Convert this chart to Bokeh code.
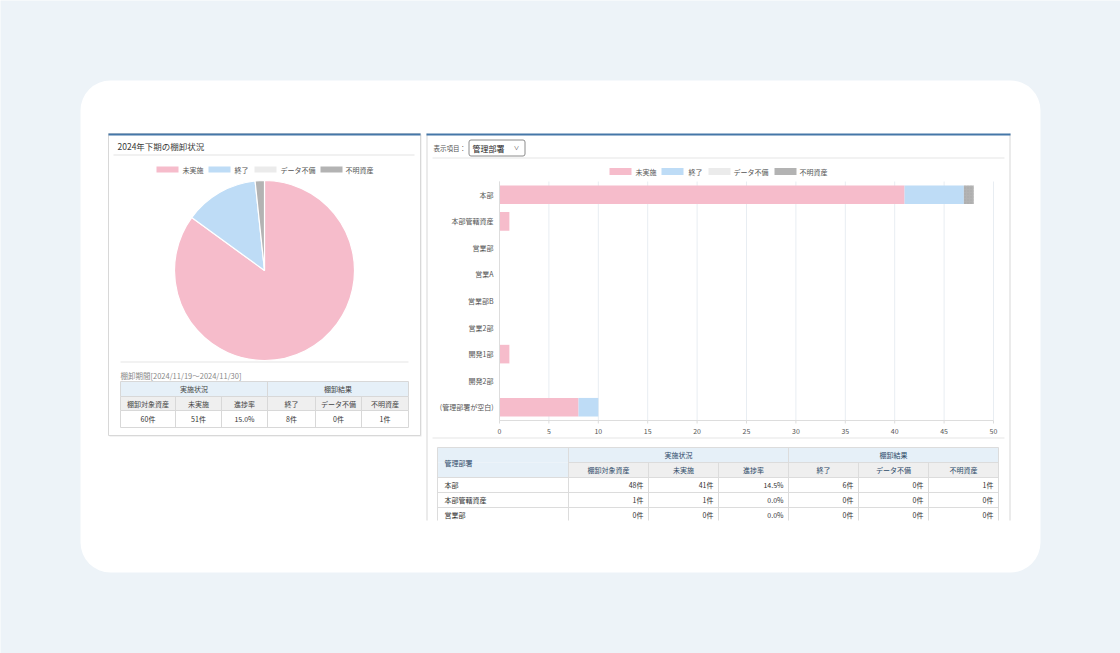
import math

from bokeh.core.properties import value
from bokeh.embed import file_html
from bokeh.models import ColumnDataSource, Range1d
from bokeh.plotting import figure
from bokeh.resources import INLINE

FONT = "Noto Sans CJK JP"
PAGE_BG = "#edf3f8"
ACCENT = "#4577a8"
BORDER = "#d8d8d8"
HEAD_BLUE = "#e6f0f8"
HEAD_GREY = "#efefef"

# ---------------- data ----------------
status_labels = ["未実施", "終了", "データ不備", "不明資産"]
status_colors = ["#f6bccb", "#bedcf6", "#ebebeb", "#b3b3b3"]

summary_title = "2024年下期の棚卸状況"
period_label = "棚卸期間[2024/11/19～2024/11/30]"
summary_counts = [51, 8, 0, 1]  # 未実施, 終了, データ不備, 不明資産

departments = ["本部", "本部管轄資産", "営業部", "営業A", "営業部B",
               "営業2部", "開発1部", "開発2部", "(管理部署が空白)"]
dept_pending = [41, 1, 0, 0, 0, 0, 1, 0, 8]
dept_done = [6, 0, 0, 0, 0, 0, 0, 0, 2]
dept_incomplete = [0, 0, 0, 0, 0, 0, 0, 0, 0]
dept_unknown = [1, 0, 0, 0, 0, 0, 0, 0, 0]

x_ticks = [0, 5, 10, 15, 20, 25, 30, 35, 40, 45, 50]

group_headers = ["実施状況", "棚卸結果"]
column_headers = ["棚卸対象資産", "未実施", "進捗率", "終了", "データ不備", "不明資産"]
table_dept_header = "管理部署"
table_visible_rows = 3

filter_caption = "表示項目："
filter_choice = "管理部署"


def progress_rate(total, pending):
    if total == 0:
        return 0.0
    return math.floor((total - pending) / total * 1000) / 10


def row_cells(pending, done, incomplete, unknown):
    total = pending + done + incomplete + unknown
    return [f"{total}件", f"{pending}件", f"{progress_rate(total, pending):.1f}%",
            f"{done}件", f"{incomplete}件", f"{unknown}件"]


# ---------------- page canvas (pixel coordinates, y downwards) ----------------
W, H = 1120, 653
p = figure(width=W, height=H, x_range=Range1d(0, W), y_range=Range1d(H, 0),
           min_border=0, x_axis_location=None, y_axis_location=None,
           toolbar_location=None, output_backend="svg",
           background_fill_color=PAGE_BG, border_fill_color=PAGE_BG)
p.outline_line_color = None
p.grid.visible = False

# bar-chart scales: counts across 0..50 and one band per department
CH_L, CH_R, CH_T, CH_B = 499, 993, 181, 420
x_max = x_ticks[-1]
px_per_unit = (CH_R - CH_L) / x_max
n_dept = len(departments)
band = (CH_B - CH_T) / n_dept
p.extra_x_ranges = {"cnt": Range1d(-CH_L / px_per_unit, (W - CH_L) / px_per_unit)}
p.extra_y_ranges = {"dept": Range1d(-0.5 + (H - CH_T) / band, -0.5 - CH_T / band)}


def box(x0, y0, x1, y1, fill=None, line=None, lw=1, radius=0):
    kw = {}
    if radius:
        kw["border_radius"] = radius
    p.quad(left=[x0], right=[x1], top=[y0], bottom=[y1],
           fill_color=fill, fill_alpha=1 if fill else 0,
           line_color=line, line_width=lw, **kw)


def text(x, y, s, size="7px", color="#333333", align="left", style="normal"):
    p.text(x=[x], y=[y], text=[s], text_font=value(FONT), text_font_size=value(size),
           text_color=color, text_align=align, text_baseline="middle",
           text_font_style=style)


def legend(swatch_x, text_x, y, w, h):
    for sx, tx, name, col in zip(swatch_x, text_x, status_labels, status_colors):
        box(sx, y - h / 2, sx + w, y + h / 2, fill=col)
        text(tx, y, name, color="#555555")


# card
box(80, 80, 1040, 572, fill="white", radius=30)

# ================= left panel: summary =================
box(109, 134, 421, 436, fill="#e8e8e8")
box(108, 133, 420, 435, fill="white", line=BORDER)
box(108, 133, 420, 135, fill=ACCENT)

text(117, 145, summary_title, size="8.5px", color="#3a3a3a")
box(113, 154, 414, 155, fill="#e4e4e4")

legend([156, 208, 254, 320], [182, 234, 280, 345], 169, 22, 6)

total = sum(summary_counts)
cum = [0]
for c in summary_counts:
    cum.append(cum[-1] + c)
slices = [i for i, c in enumerate(summary_counts) if c > 0]
pie_src = ColumnDataSource(dict(
    start=[math.pi / 2 - cum[i + 1] / total * 2 * math.pi for i in slices],
    end=[math.pi / 2 - cum[i] / total * 2 * math.pi for i in slices],
    color=[status_colors[i] for i in slices],
))
p.wedge(x=264, y=270, radius=90, radius_units="screen",
        start_angle="start", end_angle="end", direction="anticlock",
        fill_color="color", line_color="white", line_width=1.2, source=pie_src)

box(120, 361, 408, 362, fill="#e6e6e6")
text(120, 375, period_label, size="7.5px", color="#888888")

# summary table
lcols = [120, 175, 221, 267, 315, 361, 408]
lrows = [381, 396, 410, 427]
box(lcols[0], lrows[0], lcols[-1], lrows[1], fill=HEAD_BLUE, line=BORDER)
box(lcols[0], lrows[1], lcols[-1], lrows[2], fill=HEAD_GREY, line=BORDER)
box(lcols[0], lrows[2], lcols[-1], lrows[3], fill="white", line=BORDER)
box(lcols[3] - 0.5, lrows[0], lcols[3] + 0.5, lrows[3], fill=BORDER)
for cx in lcols[1:-1]:
    box(cx - 0.5, lrows[1], cx + 0.5, lrows[3], fill=BORDER)
text((lcols[0] + lcols[3]) / 2, (lrows[0] + lrows[1]) / 2, group_headers[0], color="#444444", align="center")
text((lcols[3] + lcols[6]) / 2, (lrows[0] + lrows[1]) / 2, group_headers[1], color="#444444", align="center")
summary_cells = row_cells(*summary_counts)
for i in range(6):
    cx = (lcols[i] + lcols[i + 1]) / 2
    text(cx, (lrows[1] + lrows[2]) / 2, column_headers[i], color="#444444", align="center")
    text(cx, (lrows[2] + lrows[3]) / 2, summary_cells[i], color="#333333", align="center")

# ================= right panel: by department =================
box(426, 133, 1010, 520, fill="white")
box(426, 133, 427, 520, fill=BORDER)
box(1009, 133, 1010, 520, fill=BORDER)
box(426, 133, 1010, 135, fill=ACCENT)

text(433, 147, filter_caption, size="6.5px", color="#555555")
box(468.5, 139.5, 524.5, 155.5, fill="white", line="#8c8c8c", radius=2)
text(472, 147.5, filter_choice, size="8px", color="#222222")
text(516, 147, "∨", size="5.5px", color="#444444", align="center")
box(432, 157, 1004, 158, fill="#e6e6e6")

legend([609, 661, 708, 774], [635, 688, 733, 799], 171, 22, 7)

# grid and axis lines of the bar chart
p.segment(x0=x_ticks, x1=x_ticks, y0=-0.5, y1=n_dept - 0.5, line_color="#e8edf2",
          line_width=1, x_range_name="cnt", y_range_name="dept")

bar_src = ColumnDataSource(dict(
    idx=list(range(n_dept)), pending=dept_pending, done=dept_done,
    incomplete=dept_incomplete, unknown=dept_unknown,
))
p.hbar_stack(["pending", "done", "incomplete", "unknown"], y="idx", height=0.7,
             source=bar_src, fill_color=status_colors, line_color=None,
             hatch_pattern=[" ", " ", ".", "."], hatch_color="#999999",
             hatch_scale=3, hatch_alpha=0.45,
             x_range_name="cnt", y_range_name="dept")

p.segment(x0=[0], x1=[0], y0=[-0.5], y1=[n_dept - 0.5], line_color="#dddddd",
          x_range_name="cnt", y_range_name="dept")
p.segment(x0=[0], x1=[x_max], y0=[n_dept - 0.5], y1=[n_dept - 0.5], line_color="#dddddd",
          x_range_name="cnt", y_range_name="dept")
p.segment(x0=x_ticks, x1=x_ticks, y0=n_dept - 0.5, y1=n_dept - 0.5 + 3 / band,
          line_color="#dddddd", x_range_name="cnt", y_range_name="dept")

# tick labels
p.text(x=x_ticks, y=[430] * len(x_ticks), text=[str(t) for t in x_ticks],
       text_font=value(FONT), text_font_size=value("7px"), text_color="#555555",
       text_align="center", text_baseline="middle", x_range_name="cnt")
p.text(x=[0] * n_dept, y=list(range(n_dept)), text=departments, x_offset=-6,
       text_font=value(FONT), text_font_size=value("7px"), text_color="#555555",
       text_align="right", text_baseline="middle",
       x_range_name="cnt", y_range_name="dept")

box(432, 437, 1004, 438, fill="#e6e6e6")

# detail table
rcols = [437, 568, 648, 718, 788, 858, 928, 998]
rrows = [447, 462, 477, 492, 507, 520]
GRID = "#dcdcdc"
HEAD_TXT = "#2d4a68"
box(rcols[0], rrows[0], rcols[-1], rrows[1], fill=HEAD_BLUE)
box(rcols[0], rrows[1], rcols[1], rrows[2], fill=HEAD_BLUE)
box(rcols[1], rrows[1], rcols[-1], rrows[2], fill=HEAD_GREY)
for ry in rrows[:-1]:
    x_start = rcols[1] if ry == rrows[1] else rcols[0]
    box(x_start, ry - 0.5, rcols[-1], ry + 0.5, fill=GRID)
for j, cx in enumerate(rcols):
    y_start = rrows[0] if j in (0, 1, 4, 7) else rrows[1]
    box(cx - 0.5, y_start, cx + 0.5, rrows[-1], fill=GRID)

text(444, rrows[1], table_dept_header, color=HEAD_TXT)
text((rcols[1] + rcols[4]) / 2, (rrows[0] + rrows[1]) / 2, group_headers[0], color=HEAD_TXT, align="center")
text((rcols[4] + rcols[7]) / 2, (rrows[0] + rrows[1]) / 2, group_headers[1], color=HEAD_TXT, align="center")
for i, head in enumerate(column_headers):
    text((rcols[i + 1] + rcols[i + 2]) / 2, (rrows[1] + rrows[2]) / 2, head, color=HEAD_TXT, align="center")

for r in range(table_visible_rows):
    cy = (rrows[2 + r] + rrows[3 + r]) / 2 if 3 + r < len(rrows) - 1 else rrows[2 + r] + 7.5
    text(444, cy, departments[r], color="#333333")
    cells = row_cells(dept_pending[r], dept_done[r], dept_incomplete[r], dept_unknown[r])
    for i, s in enumerate(cells):
        text(rcols[i + 2] - 5, cy, s, color="#333333", align="right")

open("out.html", "w").write(file_html(p, INLINE))
